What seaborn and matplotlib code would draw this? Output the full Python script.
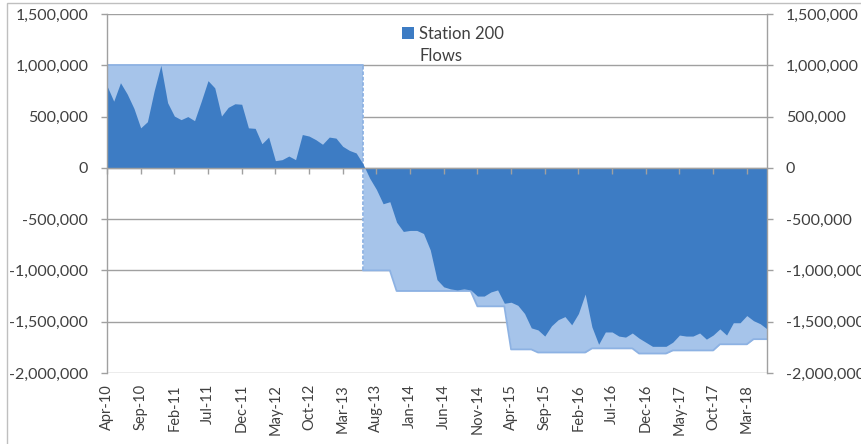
import numpy as np
import pandas as pd
import matplotlib
matplotlib.use("Agg")
import matplotlib.pyplot as plt
import matplotlib.ticker as mticker
from matplotlib.patches import Patch, Rectangle
import seaborn as sns

# ---------------- data ----------------
months = pd.date_range("2010-04-01", periods=99, freq="MS").strftime("%b-%y").tolist()

flows = [
    800e3, 650e3, 830e3, 720e3, 580e3, 390e3, 450e3, 750e3, 1000e3, 635e3,
    505e3, 470e3, 500e3, 460e3, 650e3, 850e3, 780e3, 505e3, 590e3, 625e3,
    620e3, 390e3, 385e3, 235e3, 300e3, 70e3, 80e3, 115e3, 80e3, 325e3,
    310e3, 275e3, 230e3, 300e3, 290e3, 210e3, 170e3, 145e3, 40e3, -100e3,
    -210e3, -350e3, -330e3, -530e3, -620e3, -610e3, -610e3, -640e3, -800e3, -1090e3,
    -1160e3, -1180e3, -1190e3, -1180e3, -1190e3, -1250e3, -1250e3, -1210e3, -1190e3, -1320e3,
    -1310e3, -1340e3, -1420e3, -1560e3, -1580e3, -1640e3, -1540e3, -1480e3, -1450e3, -1530e3,
    -1420e3, -1230e3, -1550e3, -1720e3, -1600e3, -1600e3, -1640e3, -1650e3, -1610e3, -1660e3,
    -1700e3, -1740e3, -1740e3, -1740e3, -1700e3, -1630e3, -1640e3, -1640e3, -1610e3, -1670e3,
    -1630e3, -1570e3, -1630e3, -1510e3, -1510e3, -1440e3, -1490e3, -1520e3, -1570e3,
]

# light "limit" series: positive part (Apr-10 .. Jun-13) and negative part (Jun-13 .. Jun-18)
limit_pos = [1000e3] * 39
limit_neg = ([-1000e3] * 5 + [-1200e3] * 12 + [-1350e3] * 5 + [-1770e3] * 4 +
             [-1800e3] * 8 + [-1760e3] * 7 + [-1810e3] * 5 + [-1780e3] * 7 +
             [-1720e3] * 5 + [-1670e3] * 3)
neg_start = 38

y_ticks = [1.5e6, 1.0e6, 0.5e6, 0, -0.5e6, -1.0e6, -1.5e6, -2.0e6]
legend_label = "Station 200"
legend_label2 = "Flows"

# ---------------- styling ----------------
DARK = "#3D7CC4"
LIGHT = "#A6C4EA"
LIGHT_EDGE = "#8DB2E3"
GRID = "#A0A0A0"
TEXT = "#404040"

sns.set_theme(style="white")
plt.rcParams["font.family"] = ["Lato", "DejaVu Sans"]

W, H = 862, 444
fig = plt.figure(figsize=(W / 100, H / 100), dpi=100)
L, R, T, B = 107, 767, 14, 373
ax = fig.add_axes([L / W, 1 - B / H, (R - L) / W, (B - T) / H])

x_all = np.arange(len(months))
x_pos = x_all[:len(limit_pos)]
x_neg = x_all[neg_start:neg_start + len(limit_neg)]

df_pos = pd.DataFrame({"x": x_pos, "v": limit_pos})
df_neg = pd.DataFrame({"x": x_neg, "v": limit_neg})
df_flow = pd.DataFrame({"x": x_all, "v": flows})

# light limit areas
ax.fill_between(df_pos["x"], 0, df_pos["v"], color=LIGHT, lw=0, zorder=1)
ax.fill_between(df_neg["x"], 0, df_neg["v"], color=LIGHT, lw=0, zorder=1)
sns.lineplot(data=df_pos, x="x", y="v", ax=ax, color=LIGHT_EDGE, lw=1.3, zorder=1.5)
sns.lineplot(data=df_neg, x="x", y="v", ax=ax, color=LIGHT_EDGE, lw=1.3, zorder=1.5)
ax.vlines(df_pos["x"].iloc[-1], df_neg["v"].iloc[0], df_pos["v"].iloc[-1],
          color=LIGHT_EDGE, lw=1.3, linestyles=(0, (2, 1)), zorder=1.5)

# dark flows area
ax.fill_between(df_flow["x"], 0, df_flow["v"], color=DARK, lw=0, zorder=2)

# axes
ax.set_xlim(0, len(months) - 1)
ax.set_ylim(-2e6, 1.5e6)
ax.set_xlabel("")
ax.set_ylabel("")
ax.set_yticks(y_ticks)
fmt = mticker.FuncFormatter(lambda v, p: f"{v:,.0f}")
ax.yaxis.set_major_formatter(fmt)
ax.grid(axis="y", color=GRID, lw=1.0, zorder=0)
ax.set_axisbelow(True)
for s in ["top", "bottom"]:
    ax.spines[s].set_visible(False)
for s in ["left", "right"]:
    ax.spines[s].set_color(GRID)
    ax.spines[s].set_linewidth(1.0)

ax.set_xticks(x_all[::5])
ax.set_xticklabels(months[::5], rotation=90, va="top", ha="center")
ax.tick_params(axis="x", length=0, pad=8, labelsize=10.5, labelcolor=TEXT)
ax.tick_params(axis="y", direction="out", length=4.5, width=1, color=GRID,
               labelsize=11.5, labelcolor=TEXT, pad=9, left=True)

# right axis duplicate
ax2 = ax.twinx()
ax2.set_ylim(ax.get_ylim())
ax2.set_yticks(y_ticks)
ax2.yaxis.set_major_formatter(fmt)
ax2.tick_params(axis="y", direction="out", length=4.5, width=1, color=GRID,
                labelsize=11.5, labelcolor=TEXT, pad=9, right=True)
for s in ax2.spines.values():
    s.set_visible(False)
ax2.grid(False)

# category axis line at zero with tick marks
zero_frac = (0 - (-2e6)) / 3.5e6
sec = ax.secondary_xaxis(zero_frac)
sec.set_xticks(x_all[::5])
sec.set_xticklabels([])
sec.xaxis.set_ticks_position("bottom")
sec.tick_params(axis="x", direction="out", length=4.5, width=1, color=GRID,
                bottom=True, top=False)
sec.spines["top"].set_visible(False)
sec.spines["bottom"].set_visible(True)
sec.spines["bottom"].set_color(GRID)
sec.spines["bottom"].set_linewidth(1.0)
sec.set_zorder(5)

# legend
handles = [Patch(facecolor=DARK, edgecolor="none"), Patch(facecolor="none", edgecolor="none")]
leg = ax.legend(handles, [legend_label, legend_label2], loc="upper left",
                bbox_to_anchor=((402 - L) / (R - L), 1 - (26 - T) / (B - T)),
                frameon=False, fontsize=12, handlelength=0.7, handleheight=0.7,
                handletextpad=0.35, labelspacing=0.38, borderaxespad=0, borderpad=0)
for t in leg.get_texts():
    t.set_color(TEXT)

# outer chart frame (visible left and top edges)
fig.patches.append(Rectangle((7 / W, -0.1), 2.0, (H - 3) / H + 0.1, transform=fig.transFigure,
                             fill=False, edgecolor="#BFBFBF", lw=1.0))

fig.savefig("out.png", dpi=100)
